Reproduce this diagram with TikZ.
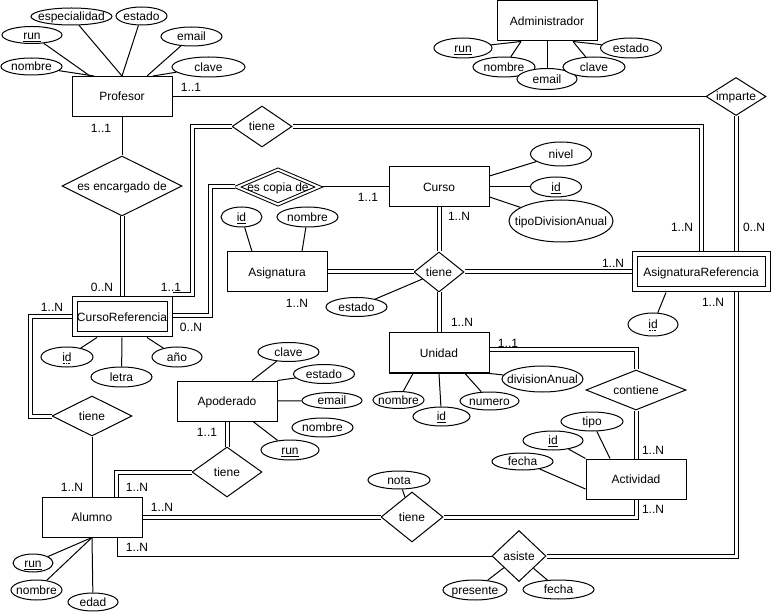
\documentclass[tikz,border=0pt]{standalone}
\usepackage{fontspec}
\setmainfont{Liberation Sans}
\usetikzlibrary{shapes.geometric}
% zero-size label box: the shape size is set only by minimum width/height
\newcommand\tx[1]{\makebox[0pt]{\smash{\raisebox{-4.3pt}{#1}}}}
% dotted underline for partial keys
\newsavebox\dulbox
\newcommand\dotul[1]{\sbox\dulbox{#1}\rlap{\usebox\dulbox}%
  \raisebox{-2.2pt}{\hbox to \wd\dulbox{\leaders\hbox to 1.6pt{\hss\rule{0.8pt}{0.8pt}\hss}\hfill}}}

\tikzset{
  base/.style={inner sep=0pt, font=\fontsize{12}{14}\selectfont, line width=1pt},
  sz/.style 2 args={minimum width=#1pt, minimum height=#2pt},
  ent/.style={base, draw, rectangle, fill=white, minimum width=100pt, minimum height=40pt},
  wkent/.style={base, draw, rectangle, double, double distance=4pt, fill=white,
                minimum height=35pt, outer sep=3pt},
  attr/.style={base, draw, ellipse, fill=white},
  rel/.style={base, draw, diamond, fill=white},
  wkrel/.style={rel, double, double distance=2pt, outer sep=1.5pt},
  card/.style={base},
  conn/.style={line width=1pt},
  dbl/.style={line width=1pt, double, double distance=3pt},
}

\begin{document}
\begin{tikzpicture}[x=1pt, y=-1pt]
\fill[white] (0,0) rectangle (774,612);
\useasboundingbox (0,0) rectangle (774,612);

% ---------- entities ----------
\node[ent] (prof) at (122,96.5) {\tx{Profesor}};
\node[ent] (adm) at (547,21) {\tx{Administrador}};
\node[ent] (curso) at (439,187) {\tx{Curso}};
\node[ent] (asig) at (277,272) {\tx{Asignatura}};
\node[ent] (unid) at (439,353) {\tx{Unidad}};
\node[ent] (act) at (636,479) {\tx{Actividad}};
\node[ent] (apod) at (227,401) {\tx{Apoderado}};
\node[ent] (alum) at (92,517) {\tx{Alumno}};
\node[wkent, minimum width=95pt] (cref) at (122,317) {\tx{CursoReferencia}};
\node[wkent, minimum width=133pt] (aref) at (701,272) {\tx{AsignaturaReferencia}};

% ---------- relationships ----------
\node[rel, sz={60}{41}] (t1) at (262,126.5) {\tx{tiene}};
\node[wkrel, sz={83}{36}] (ecd) at (278,187) {\tx{es copia de}};
\node[rel, sz={120}{60}] (enc) at (122,186) {\tx{es encargado de}};
\node[rel, sz={60}{38}] (imp) at (736,96.5) {\tx{imparte}};
\node[rel, sz={50}{40}] (t2) at (439,272) {\tx{tiene}};
\node[rel, sz={100}{40}] (cont) at (636,390) {\tx{contiene}};
\node[rel, sz={62}{50}] (t3) at (412,517) {\tx{tiene}};
\node[rel, sz={54}{51}] (asis) at (519,556) {\tx{asiste}};
\node[rel, sz={70}{50}] (t4) at (227,472) {\tx{tiene}};
\node[rel, sz={80}{40}] (t5) at (92,416) {\tx{tiene}};

% ---------- attributes ----------
% Profesor
\node[attr, sz={81}{17}] (pesp) at (71.5,16.5) {\tx{especialidad}};
\node[attr, sz={51}{18}] (pest) at (141.5,16) {\tx{estado}};
\node[attr, sz={60}{17}] (prun) at (32,35) {\tx{\underline{run}}};
\node[attr, sz={61}{19}] (pema) at (191.5,36.5) {\tx{email}};
\node[attr, sz={61}{17}] (pnom) at (31.5,66.5) {\tx{nombre}};
\node[attr, sz={73}{20}] (pcla) at (208.5,67) {\tx{clave}};
% Administrador
\node[attr, sz={58}{20}] (arun) at (463,48) {\tx{\underline{run}}};
\node[attr, sz={62}{20}] (anom) at (504,67) {\tx{nombre}};
\node[attr, sz={60}{21}] (aema) at (547,79) {\tx{email}};
\node[attr, sz={62}{20}] (acla) at (594,67) {\tx{clave}};
\node[attr, sz={61}{20}] (aest) at (631,48) {\tx{estado}};
% Curso
\node[attr, sz={61}{24}] (cniv) at (561,154) {\tx{nivel}};
\node[attr, sz={51}{20}] (cid) at (556,187) {\tx{\underline{id}}};
\node[attr, sz={104}{42}] (ctip) at (561,221) {\tx{tipoDivisionAnual}};
% Asignatura
\node[attr, sz={41}{20}] (sid) at (241.5,217) {\tx{\underline{id}}};
\node[attr, sz={61}{20}] (snom) at (307.5,217) {\tx{nombre}};
% tiene (Asignatura, Curso, Unidad, AsignaturaReferencia)
\node[attr, sz={61}{19}] (t2est) at (356.5,307) {\tx{estado}};
% AsignaturaReferencia
\node[attr, sz={50}{23}] (arid) at (653,324.5) {\tx{\dotul{id}}};
% Unidad
\node[attr, sz={51}{17}] (unom) at (398.5,400) {\tx{nombre}};
\node[attr, sz={57}{19}] (uid) at (441.5,416.5) {\tx{\underline{id}}};
\node[attr, sz={59}{18}] (unum) at (489.5,401) {\tx{numero}};
\node[attr, sz={81}{26}] (udiv) at (542.5,379) {\tx{divisionAnual}};
% Actividad
\node[attr, sz={62}{19}] (atip) at (592,421.5) {\tx{tipo}};
\node[attr, sz={60}{19}] (aid) at (553,440.5) {\tx{\underline{id}}};
\node[attr, sz={61}{17}] (afec) at (522.5,461.5) {\tx{fecha}};
% tiene (Alumno, Actividad)
\node[attr, sz={62}{18}] (nota) at (399,480) {\tx{nota}};
% asiste
\node[attr, sz={64}{20}] (pres) at (475,590) {\tx{presente}};
\node[attr, sz={71}{19}] (sfec) at (558.5,589.5) {\tx{fecha}};
% Alumno
\node[attr, sz={40}{18}] (lrun) at (33,563) {\tx{\underline{run}}};
\node[attr, sz={51}{20}] (lnom) at (36.5,590) {\tx{nombre}};
\node[attr, sz={50}{18}] (leda) at (93,602) {\tx{edad}};
% CursoReferencia
\node[attr, sz={52}{20}] (rid) at (67,357) {\tx{\dotul{id}}};
\node[attr, sz={61}{20}] (rlet) at (121.5,377) {\tx{letra}};
\node[attr, sz={50}{20}] (rano) at (177,357) {\tx{año}};
% Apoderado
\node[attr, sz={61}{19}] (dcla) at (288.5,352) {\tx{clave}};
\node[attr, sz={61}{19}] (dest) at (324,374) {\tx{estado}};
\node[attr, sz={60}{16}] (dema) at (332,400.5) {\tx{email}};
\node[attr, sz={61}{19}] (dnom) at (322.5,427.5) {\tx{nombre}};
\node[attr, sz={58}{20}] (drun) at (290,450) {\tx{\underline{run}}};

% ---------- attribute links ----------
\draw[conn] (pnom) -- ([xshift=-28pt]prof.north);
\draw[conn] (prun) -- ([xshift=-32pt]prof.north);
\draw[conn] (pesp) -- (prof.north);
\draw[conn] (pest) -- (prof.north);
\draw[conn] (pema) -- ([xshift=25pt]prof.north);
\draw[conn] (pcla) -- ([xshift=31pt]prof.north);

\draw[conn] (arun) -- ([xshift=-26pt]adm.south);
\draw[conn] (anom) -- ([xshift=-26pt]adm.south);
\draw[conn] (aema) -- (adm.south);
\draw[conn] (acla) -- ([xshift=26pt]adm.south);
\draw[conn] (aest) -- ([xshift=26pt]adm.south);

\draw[conn] (cniv) -- ([yshift=11pt]curso.east);
\draw[conn] (cid) -- (curso.east);
\draw[conn] (ctip) -- ([yshift=-10pt]curso.east);

\draw[conn] (sid) -- ([xshift=-25pt]asig.north);
\draw[conn] (snom) -- ([xshift=25pt]asig.north);

\draw[conn] (t2est) -- (t2);
\draw[conn] (arid) -- ([xshift=-35pt]aref.south);

\draw[conn] (unom) -- ([xshift=-26pt]unid.south);
\draw[conn] (uid) -- (unid.south);
\draw[conn] (unum) -- ([xshift=26pt]unid.south);
\draw[conn] (udiv) -- (unid.south east);

\draw[conn] (atip) -- ([xshift=-26pt]act.north);
\draw[conn] (aid) -- (act.north west);
\draw[conn] (afec) -- ([yshift=-10pt]act.west);

\draw[conn] (nota) -- (t3);
\draw[conn] (pres) -- (asis);
\draw[conn] (sfec) -- (asis);

\draw[conn] (lrun) -- (alum.south);
\draw[conn] (lnom) -- (alum.south);
\draw[conn] (leda) -- (alum.south);

\draw[conn] (rid) -- ([xshift=-25pt]cref.south);
\draw[conn] (rlet) -- (cref.south);
\draw[conn] (rano) -- ([xshift=25pt]cref.south);

\draw[conn] (dcla) -- ([xshift=25pt]apod.north);
\draw[conn] (dest) -- (apod.north east);
\draw[conn] (dema) -- (apod.east);
\draw[conn] (drun) -- ([xshift=26pt]apod.south);

% ---------- relationship links ----------
\draw[conn] (prof.east) -- (imp.west);
\draw[conn] (prof.south) -- (enc.north);
\draw[dbl] (enc.south) -- (cref.north);
\draw[dbl] (imp.south) -- (imp.south |- aref.north);
\draw[dbl] (aref.south -| imp.south) |- (asis.east);
\draw[dbl] (t1.east) -| (aref.north);
\draw[dbl] ([yshift=22pt]cref.east) -- ++(20,0) |- (t1.west);
\draw[dbl] ([yshift=1pt]cref.east) -- ++(38,0) |- (ecd.west);
\draw[conn] (ecd.east) -- (curso.west);
\draw[dbl] (curso.south) -- (t2.north);
\draw[dbl] (asig.east) -- (t2.west);
\draw[dbl] (t2.east) -- (aref.west);
\draw[dbl] (t2.south) -- (unid.north);
\draw[dbl] ([yshift=3pt]unid.east) -| (cont.north);
\draw[dbl] (cont.south) -- (act.north);
\draw[dbl] (act.south) |- (t3.east);
\draw[dbl] (alum.east) -- (t3.west);
\draw[conn] ([xshift=25pt]alum.south) |- (asis.west);
\draw[dbl] (t4.west) -| ([xshift=24pt]alum.north);
\draw[dbl] (apod.south) -- (t4.north);
\draw[conn] (alum.north) -- (t5.south);
\draw[dbl] (t5.west) -| ([xshift=-41pt]cref.west) -- (cref.west);

% ---------- cardinalities ----------
\node[card] (k1) at (191,87) {\tx{1..1}};
\node[card] (k2) at (101,128) {\tx{1..1}};
\node[card] (k3) at (102,287) {\tx{0..N}};
\node[card] (k4) at (171,287) {\tx{1..1}};
\node[card] (k5) at (191,327) {\tx{0..N}};
\node[card] (k6) at (52,307) {\tx{1..N}};
\node[card] (k7) at (368,197) {\tx{1..1}};
\node[card] (k8) at (459,216) {\tx{1..N}};
\node[card] (k9) at (297,303) {\tx{1..N}};
\node[card] (k10) at (613,263) {\tx{1..N}};
\node[card] (k11) at (682,227) {\tx{1..N}};
\node[card] (k12) at (754,227) {\tx{0..N}};
\node[card] (k13) at (713,302) {\tx{1..N}};
\node[card] (k14) at (462,322) {\tx{1..N}};
\node[card] (k15) at (508,343) {\tx{1..1}};
\node[card] (k16) at (653,450) {\tx{1..N}};
\node[card] (k17) at (653,509) {\tx{1..N}};
\node[card] (k18) at (207,432) {\tx{1..1}};
\node[card] (k19) at (72,487) {\tx{1..N}};
\node[card] (k20) at (137,487) {\tx{1..N}};
\node[card] (k21) at (162,507) {\tx{1..N}};
\node[card] (k22) at (137,547) {\tx{1..N}};
\end{tikzpicture}
\end{document}
